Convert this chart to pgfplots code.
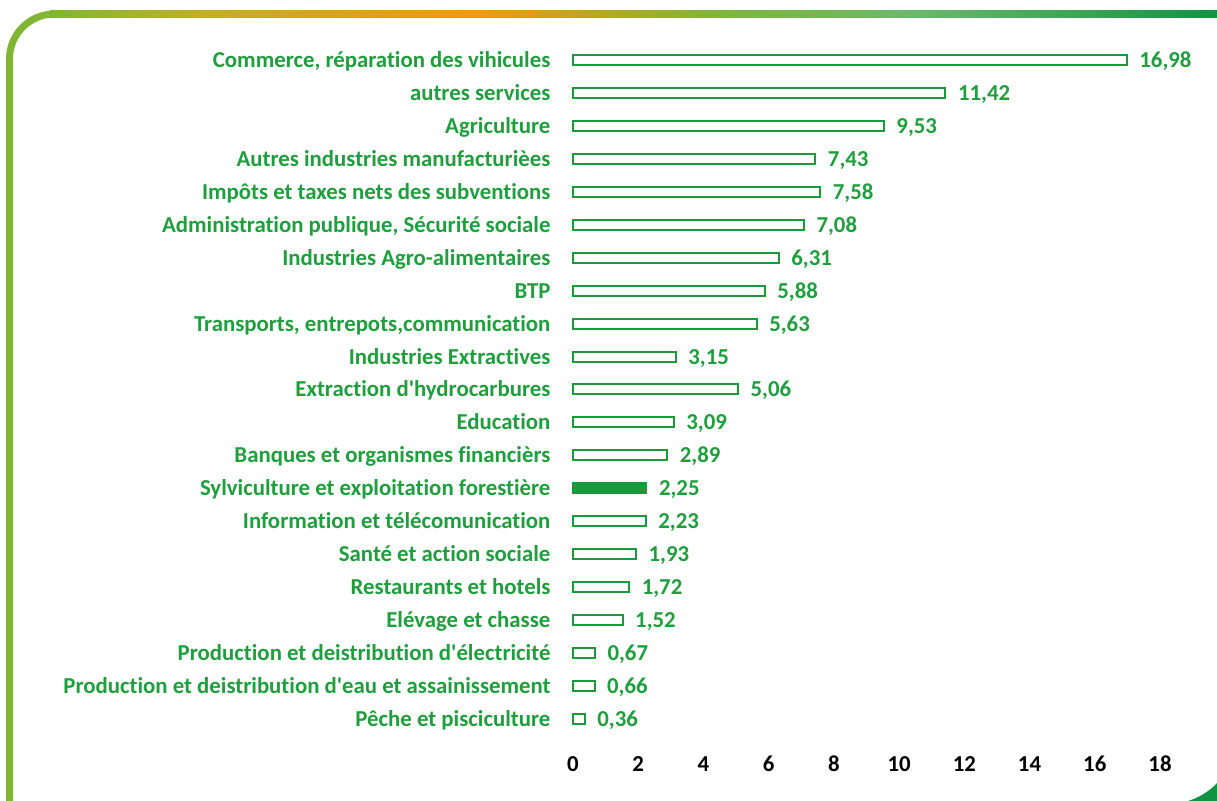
\documentclass[border=0pt]{standalone}
\usepackage{pgfplots}
\pgfplotsset{compat=1.18}
\usepackage{fontspec}
\setmainfont{Carlito}[Ligatures={NoCommon,TeXOff}]
\definecolor{tgreen}{RGB}{30,158,60}
\definecolor{bgreen}{RGB}{26,154,58}
\definecolor{olivec}{RGB}{128,182,52}
\definecolor{yelc}{RGB}{192,176,38}
\definecolor{orac}{RGB}{242,156,0}
\definecolor{midg}{RGB}{125,182,58}
\definecolor{lightg}{RGB}{108,184,108}
\definecolor{darkg}{RGB}{16,148,66}
\pgfdeclarehorizontalshading{topbar}{100bp}{color(0bp)=(olivec); color(25bp)=(olivec); color(31.4bp)=(yelc); color(43.2bp)=(orac); color(53.7bp)=(midg); color(61.9bp)=(lightg); color(75bp)=(darkg); color(100bp)=(darkg)}
\begin{document}
\begin{tikzpicture}
\clip (0,0) rectangle (608.5pt,400.5pt);
\begin{scope}[x=0.5pt,y=-0.5pt,shift={(0pt,400.5pt)}]
\fill[shading=topbar] (50,10.5) rectangle (1220,17.5);
\draw[olivec,line width=3.5pt,rounded corners=22.5pt] (9.5,820) -- (9.5,14) -- (70,14);
\draw[darkg,line width=8pt,rounded corners=38pt] (1100,812) -- (1244,812) -- (1244,650);
\end{scope}
\begin{axis}[
  at={(286.5pt,32.7625pt)}, anchor=south west,
  scale only axis, width=293.5pt, height=345.975pt,
  xmin=0, xmax=18, ymin=-0.5, ymax=20.5,
  xbar, bar width=5pt, bar shift=0pt,
  axis line style={draw=none}, tick style={draw=none},
  xtick={0,2,...,18}, ytick={0,...,20},
  yticklabels={{Pêche et pisciculture},{Production et deistribution d'eau et assainissement},{Production et deistribution d'électricité},{Elévage et chasse},{Restaurants et hotels},{Santé et action sociale},{Information et télécomunication},{Sylviculture et exploitation forestière},{Banques et organismes financièrs},{Education},{Extraction d'hydrocarbures},{Industries Extractives},{Transports, entrepots,communication},{BTP},{Industries Agro-alimentaires},{Administration publique, Sécurité sociale},{Impôts et taxes nets des subventions},{Autres industries manufacturièes},{Agriculture},{autres services},{Commerce, réparation des vihicules}},
  /pgf/number format/assume math mode=true,
  every tick label/.append style={font=\fontsize{11.4}{13}\selectfont\bfseries, text height=1.6ex, text depth=0.45ex},
  yticklabel style={text=tgreen, anchor=east, xshift=-3.5pt, yshift=-1pt},
  xticklabel style={text=black, anchor=north, yshift=-7pt},
  point meta=x,
  nodes near coords={\pgfmathprintnumber[fixed,fixed zerofill,precision=2,use comma]{\pgfplotspointmeta}},
  nodes near coords style={text=tgreen, anchor=west, xshift=2.5pt, yshift=-1pt, text height=1.6ex, text depth=0.45ex, font=\fontsize{11.4}{13}\selectfont\bfseries},
  clip=false
]
\addplot[draw=bgreen, fill=white, line width=1pt] coordinates {(0.36,0) (0.66,1) (0.67,2) (1.52,3) (1.72,4) (1.93,5) (2.23,6) (2.89,8) (3.09,9) (5.06,10) (3.15,11) (5.63,12) (5.88,13) (6.31,14) (7.08,15) (7.58,16) (7.43,17) (9.53,18) (11.42,19) (16.98,20)};
\addplot[draw=bgreen, fill=bgreen, line width=1pt] coordinates {(2.25,7)};
\end{axis}
\end{tikzpicture}
\end{document}
